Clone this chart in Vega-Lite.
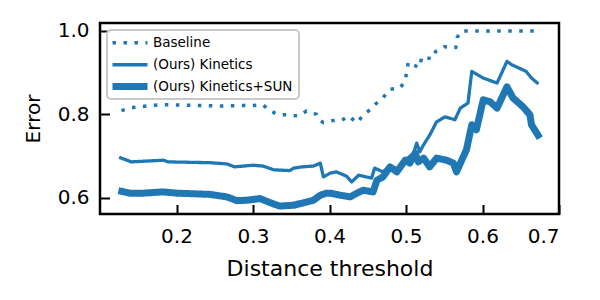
{
  "$schema": "https://vega.github.io/schema/vega-lite/v6.json",
  "width": 459,
  "height": 191,
  "autosize": {"type": "none"},
  "padding": {"left": 100, "top": 23, "right": 41, "bottom": 86},
  "background": "white",
  "config": {
    "view": {"stroke": "black", "strokeWidth": 2.5},
    "font": "DejaVu Sans",
    "axis": {
      "labelFont": "DejaVu Sans",
      "titleFont": "DejaVu Sans",
      "labelColor": "black",
      "titleColor": "black",
      "titleFontWeight": "normal",
      "tickColor": "black",
      "tickWidth": 2,
      "grid": false,
      "domain": false
    },
    "legend": {"strokeWidth": 2}
  },
  "data": {
    "values": [
      {"s": "Baseline", "x": 0.128, "y": 0.809},
      {"s": "Baseline", "x": 0.141, "y": 0.816},
      {"s": "Baseline", "x": 0.156, "y": 0.819},
      {"s": "Baseline", "x": 0.172, "y": 0.822},
      {"s": "Baseline", "x": 0.187, "y": 0.823},
      {"s": "Baseline", "x": 0.210, "y": 0.822},
      {"s": "Baseline", "x": 0.231, "y": 0.821},
      {"s": "Baseline", "x": 0.260, "y": 0.820},
      {"s": "Baseline", "x": 0.283, "y": 0.821},
      {"s": "Baseline", "x": 0.298, "y": 0.821},
      {"s": "Baseline", "x": 0.313, "y": 0.823},
      {"s": "Baseline", "x": 0.322, "y": 0.809},
      {"s": "Baseline", "x": 0.333, "y": 0.799},
      {"s": "Baseline", "x": 0.346, "y": 0.799},
      {"s": "Baseline", "x": 0.359, "y": 0.796},
      {"s": "Baseline", "x": 0.370, "y": 0.808},
      {"s": "Baseline", "x": 0.383, "y": 0.800},
      {"s": "Baseline", "x": 0.386, "y": 0.788},
      {"s": "Baseline", "x": 0.392, "y": 0.780},
      {"s": "Baseline", "x": 0.404, "y": 0.785},
      {"s": "Baseline", "x": 0.416, "y": 0.786},
      {"s": "Baseline", "x": 0.425, "y": 0.796},
      {"s": "Baseline", "x": 0.436, "y": 0.780},
      {"s": "Baseline", "x": 0.444, "y": 0.798},
      {"s": "Baseline", "x": 0.455, "y": 0.814},
      {"s": "Baseline", "x": 0.461, "y": 0.826},
      {"s": "Baseline", "x": 0.470, "y": 0.840},
      {"s": "Baseline", "x": 0.479, "y": 0.860},
      {"s": "Baseline", "x": 0.492, "y": 0.863},
      {"s": "Baseline", "x": 0.499, "y": 0.880},
      {"s": "Baseline", "x": 0.501, "y": 0.904},
      {"s": "Baseline", "x": 0.503, "y": 0.925},
      {"s": "Baseline", "x": 0.517, "y": 0.912},
      {"s": "Baseline", "x": 0.521, "y": 0.938},
      {"s": "Baseline", "x": 0.534, "y": 0.933},
      {"s": "Baseline", "x": 0.539, "y": 0.951},
      {"s": "Baseline", "x": 0.550, "y": 0.962},
      {"s": "Baseline", "x": 0.565, "y": 0.960},
      {"s": "Baseline", "x": 0.567, "y": 0.985},
      {"s": "Baseline", "x": 0.573, "y": 1.0},
      {"s": "Baseline", "x": 0.620, "y": 1.0},
      {"s": "Baseline", "x": 0.671, "y": 1.0},

      {"s": "(Ours) Kinetics", "x": 0.125, "y": 0.697},
      {"s": "(Ours) Kinetics", "x": 0.141, "y": 0.686},
      {"s": "(Ours) Kinetics", "x": 0.183, "y": 0.690},
      {"s": "(Ours) Kinetics", "x": 0.189, "y": 0.686},
      {"s": "(Ours) Kinetics", "x": 0.244, "y": 0.684},
      {"s": "(Ours) Kinetics", "x": 0.266, "y": 0.681},
      {"s": "(Ours) Kinetics", "x": 0.276, "y": 0.674},
      {"s": "(Ours) Kinetics", "x": 0.300, "y": 0.678},
      {"s": "(Ours) Kinetics", "x": 0.313, "y": 0.676},
      {"s": "(Ours) Kinetics", "x": 0.327, "y": 0.667},
      {"s": "(Ours) Kinetics", "x": 0.348, "y": 0.665},
      {"s": "(Ours) Kinetics", "x": 0.353, "y": 0.671},
      {"s": "(Ours) Kinetics", "x": 0.364, "y": 0.674},
      {"s": "(Ours) Kinetics", "x": 0.379, "y": 0.676},
      {"s": "(Ours) Kinetics", "x": 0.388, "y": 0.683},
      {"s": "(Ours) Kinetics", "x": 0.392, "y": 0.650},
      {"s": "(Ours) Kinetics", "x": 0.401, "y": 0.659},
      {"s": "(Ours) Kinetics", "x": 0.409, "y": 0.662},
      {"s": "(Ours) Kinetics", "x": 0.418, "y": 0.655},
      {"s": "(Ours) Kinetics", "x": 0.422, "y": 0.652},
      {"s": "(Ours) Kinetics", "x": 0.429, "y": 0.638},
      {"s": "(Ours) Kinetics", "x": 0.438, "y": 0.654},
      {"s": "(Ours) Kinetics", "x": 0.455, "y": 0.647},
      {"s": "(Ours) Kinetics", "x": 0.459, "y": 0.671},
      {"s": "(Ours) Kinetics", "x": 0.470, "y": 0.662},
      {"s": "(Ours) Kinetics", "x": 0.479, "y": 0.676},
      {"s": "(Ours) Kinetics", "x": 0.492, "y": 0.667},
      {"s": "(Ours) Kinetics", "x": 0.499, "y": 0.690},
      {"s": "(Ours) Kinetics", "x": 0.510, "y": 0.707},
      {"s": "(Ours) Kinetics", "x": 0.514, "y": 0.731},
      {"s": "(Ours) Kinetics", "x": 0.518, "y": 0.710},
      {"s": "(Ours) Kinetics", "x": 0.523, "y": 0.727},
      {"s": "(Ours) Kinetics", "x": 0.531, "y": 0.750},
      {"s": "(Ours) Kinetics", "x": 0.540, "y": 0.782},
      {"s": "(Ours) Kinetics", "x": 0.551, "y": 0.794},
      {"s": "(Ours) Kinetics", "x": 0.564, "y": 0.787},
      {"s": "(Ours) Kinetics", "x": 0.571, "y": 0.815},
      {"s": "(Ours) Kinetics", "x": 0.581, "y": 0.827},
      {"s": "(Ours) Kinetics", "x": 0.586, "y": 0.903},
      {"s": "(Ours) Kinetics", "x": 0.601, "y": 0.887},
      {"s": "(Ours) Kinetics", "x": 0.619, "y": 0.875},
      {"s": "(Ours) Kinetics", "x": 0.632, "y": 0.927},
      {"s": "(Ours) Kinetics", "x": 0.638, "y": 0.919},
      {"s": "(Ours) Kinetics", "x": 0.657, "y": 0.903},
      {"s": "(Ours) Kinetics", "x": 0.664, "y": 0.887},
      {"s": "(Ours) Kinetics", "x": 0.673, "y": 0.873},

      {"s": "(Ours) Kinetics+SUN", "x": 0.124, "y": 0.617},
      {"s": "(Ours) Kinetics+SUN", "x": 0.139, "y": 0.611},
      {"s": "(Ours) Kinetics+SUN", "x": 0.157, "y": 0.611},
      {"s": "(Ours) Kinetics+SUN", "x": 0.183, "y": 0.614},
      {"s": "(Ours) Kinetics+SUN", "x": 0.200, "y": 0.611},
      {"s": "(Ours) Kinetics+SUN", "x": 0.244, "y": 0.608},
      {"s": "(Ours) Kinetics+SUN", "x": 0.266, "y": 0.602},
      {"s": "(Ours) Kinetics+SUN", "x": 0.279, "y": 0.593},
      {"s": "(Ours) Kinetics+SUN", "x": 0.292, "y": 0.594},
      {"s": "(Ours) Kinetics+SUN", "x": 0.309, "y": 0.598},
      {"s": "(Ours) Kinetics+SUN", "x": 0.327, "y": 0.585},
      {"s": "(Ours) Kinetics+SUN", "x": 0.335, "y": 0.580},
      {"s": "(Ours) Kinetics+SUN", "x": 0.353, "y": 0.582},
      {"s": "(Ours) Kinetics+SUN", "x": 0.366, "y": 0.588},
      {"s": "(Ours) Kinetics+SUN", "x": 0.379, "y": 0.594},
      {"s": "(Ours) Kinetics+SUN", "x": 0.388, "y": 0.606},
      {"s": "(Ours) Kinetics+SUN", "x": 0.396, "y": 0.611},
      {"s": "(Ours) Kinetics+SUN", "x": 0.401, "y": 0.611},
      {"s": "(Ours) Kinetics+SUN", "x": 0.414, "y": 0.606},
      {"s": "(Ours) Kinetics+SUN", "x": 0.427, "y": 0.602},
      {"s": "(Ours) Kinetics+SUN", "x": 0.436, "y": 0.611},
      {"s": "(Ours) Kinetics+SUN", "x": 0.444, "y": 0.618},
      {"s": "(Ours) Kinetics+SUN", "x": 0.457, "y": 0.614},
      {"s": "(Ours) Kinetics+SUN", "x": 0.462, "y": 0.642},
      {"s": "(Ours) Kinetics+SUN", "x": 0.470, "y": 0.650},
      {"s": "(Ours) Kinetics+SUN", "x": 0.479, "y": 0.674},
      {"s": "(Ours) Kinetics+SUN", "x": 0.488, "y": 0.662},
      {"s": "(Ours) Kinetics+SUN", "x": 0.499, "y": 0.690},
      {"s": "(Ours) Kinetics+SUN", "x": 0.505, "y": 0.683},
      {"s": "(Ours) Kinetics+SUN", "x": 0.512, "y": 0.707},
      {"s": "(Ours) Kinetics+SUN", "x": 0.516, "y": 0.686},
      {"s": "(Ours) Kinetics+SUN", "x": 0.523, "y": 0.695},
      {"s": "(Ours) Kinetics+SUN", "x": 0.531, "y": 0.674},
      {"s": "(Ours) Kinetics+SUN", "x": 0.540, "y": 0.695},
      {"s": "(Ours) Kinetics+SUN", "x": 0.553, "y": 0.690},
      {"s": "(Ours) Kinetics+SUN", "x": 0.562, "y": 0.683},
      {"s": "(Ours) Kinetics+SUN", "x": 0.566, "y": 0.662},
      {"s": "(Ours) Kinetics+SUN", "x": 0.579, "y": 0.715},
      {"s": "(Ours) Kinetics+SUN", "x": 0.586, "y": 0.775},
      {"s": "(Ours) Kinetics+SUN", "x": 0.592, "y": 0.763},
      {"s": "(Ours) Kinetics+SUN", "x": 0.601, "y": 0.835},
      {"s": "(Ours) Kinetics+SUN", "x": 0.610, "y": 0.830},
      {"s": "(Ours) Kinetics+SUN", "x": 0.619, "y": 0.815},
      {"s": "(Ours) Kinetics+SUN", "x": 0.632, "y": 0.866},
      {"s": "(Ours) Kinetics+SUN", "x": 0.640, "y": 0.839},
      {"s": "(Ours) Kinetics+SUN", "x": 0.653, "y": 0.818},
      {"s": "(Ours) Kinetics+SUN", "x": 0.662, "y": 0.799},
      {"s": "(Ours) Kinetics+SUN", "x": 0.664, "y": 0.775},
      {"s": "(Ours) Kinetics+SUN", "x": 0.675, "y": 0.743}
    ]
  },
  "mark": {"type": "line", "strokeCap": "butt", "strokeJoin": "round", "clip": true},
  "encoding": {
    "x": {
      "field": "x",
      "type": "quantitative",
      "scale": {"domain": [0.1, 0.7], "nice": false, "zero": false},
      "axis": {
        "title": "Distance threshold",
        "values": [0.2, 0.3, 0.4, 0.5, 0.6, 0.7],
        "format": ".1f",
        "labelFontSize": 20,
        "titleFontSize": 22,
        "tickSize": -9.5,
        "labelPadding": 22,
        "titlePadding": 12
      }
    },
    "y": {
      "field": "y",
      "type": "quantitative",
      "scale": {"domain": [0.561, 1.019], "nice": false, "zero": false},
      "axis": {
        "title": "Error",
        "values": [0.6, 0.8, 1.0],
        "format": ".1f",
        "labelFontSize": 20,
        "titleFontSize": 20,
        "tickSize": -9.5,
        "labelPadding": 20.5,
        "titlePadding": 14
      }
    },
    "color": {
      "field": "s",
      "type": "nominal",
      "scale": {"domain": ["Baseline", "(Ours) Kinetics", "(Ours) Kinetics+SUN"], "range": ["#1f77b4", "#1f77b4", "#1f77b4"]},
      "legend": {
        "title": null,
        "orient": "top-left",
        "offset": 7,
        "padding": 6,
        "cornerRadius": 4,
        "strokeColor": "#c8c8c8",
        "fillColor": "rgba(255,255,255,0.85)",
        "symbolType": "M-2,0H6.75",
        "symbolSize": 64,
        "labelFont": "DejaVu Sans",
        "labelFontSize": 13.5,
        "labelColor": "black",
        "labelOffset": 25,
        "rowPadding": 7,
        "encode": {"symbols": {"update": {"strokeJoin": {"value": "round"}, "strokeCap": {"value": "butt"}}}}
      }
    },
    "strokeDash": {
      "field": "s",
      "type": "nominal",
      "scale": {"domain": ["Baseline", "(Ours) Kinetics", "(Ours) Kinetics+SUN"], "range": [[3.5, 7.5], [1, 0], [1, 0]]},
      "legend": {"title": null}
    },
    "strokeWidth": {
      "field": "s",
      "type": "nominal",
      "scale": {"type": "ordinal", "domain": ["Baseline", "(Ours) Kinetics", "(Ours) Kinetics+SUN"], "range": [3.5, 3.3, 7]},
      "legend": {"title": null}
    }
  }
}
